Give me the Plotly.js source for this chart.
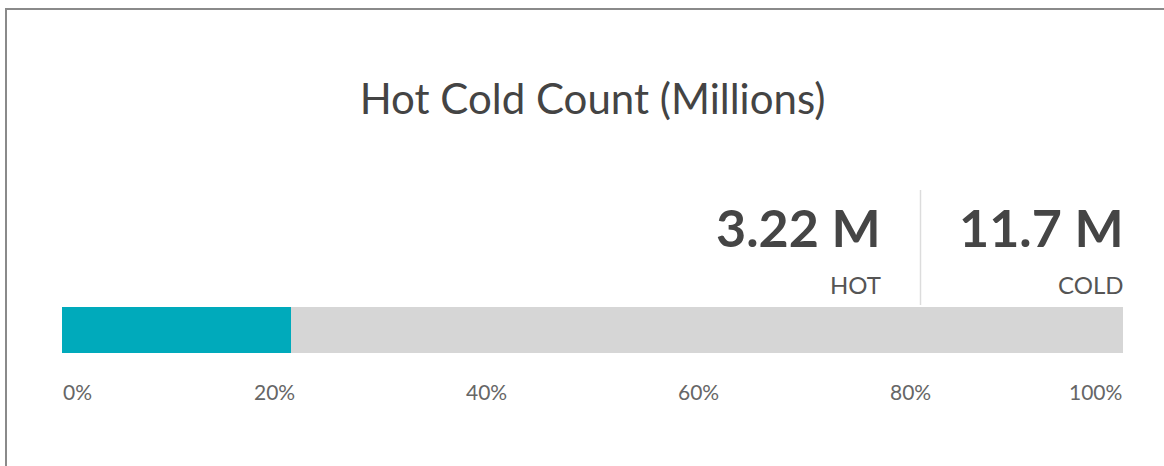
<!DOCTYPE html>
<html>
<head>
<meta charset="utf-8">
<script src="https://cdn.plot.ly/plotly-3.0.1.min.js"></script>
<style>
  html, body { margin: 0; padding: 0; background: #fff; overflow: hidden; }
  #wrap { position: relative; width: 1164px; height: 466px; }
  #chart { position: absolute; left: 0; top: 0; width: 1164px; height: 466px; }
  #frame { position: absolute; left: 5px; top: 8px; width: 1200px; height: 500px;
           border-left: 2px solid #8a8a8a; border-top: 2px solid #8a8a8a; pointer-events: none; }
</style>
</head>
<body>
<div id="wrap">
  <div id="chart"></div>
  <div id="frame"></div>
</div>
<script>
// ---- data ----
const titleText = "Hot Cold Count (Millions)";
const seriesNames = ["HOT", "COLD"];
const seriesValues = [3.22, 11.7];          // millions
const valueLabels = ["3.22 M", "11.7 M"];
const tickVals = [0, 0.2, 0.4, 0.6, 0.8, 1.0];
const tickText = ["0%", "20%", "40%", "60%", "80%", "100%"];
const barColors = ["#00aabb", "#d6d6d6"];

// ---- layout helpers ----
const W = 1164, H = 466;
const M = { l: 62, r: 41, t: 307, b: 113 };
const plotW = W - M.l - M.r, plotH = H - M.t - M.b;
const px2x = px => (px - M.l) / plotW;
const py2y = py => (H - M.b - py) / plotH;

const total = seriesValues.reduce((a, b) => a + b, 0);
const fractions = seriesValues.map(v => v / total);

const traces = seriesNames.map((name, i) => ({
  type: "bar",
  orientation: "h",
  name: name,
  y: ["count"],
  x: [fractions[i]],
  marker: { color: barColors[i] },
  hoverinfo: "skip"
}));

const annotations = [];
// axis tick labels (ends aligned inward)
tickVals.forEach((v, i) => {
  annotations.push({
    xref: "x", yref: "paper", x: v, y: py2y(391),
    text: tickText[i], showarrow: false,
    xanchor: i === 0 ? "left" : (i === tickVals.length - 1 ? "right" : "center"),
    yanchor: "middle",
    xshift: i === 0 ? -1 : (i === tickVals.length - 1 ? 1 : 0),
    font: { family: "Lato, sans-serif", size: 21, color: "#666" }
  });
});
// KPI numbers and labels
const rightEdges = [880, 1123];
seriesNames.forEach((name, i) => {
  annotations.push({
    xref: "paper", yref: "paper", x: px2x(rightEdges[i]), y: py2y(227),
    text: "<b>" + valueLabels[i] + "</b>", showarrow: false,
    xanchor: "right", yanchor: "middle", xshift: 3,
    font: { family: "Lato, sans-serif", size: 52, color: "#454545" }
  });
  annotations.push({
    xref: "paper", yref: "paper", x: px2x(rightEdges[i]), y: py2y(284),
    text: name, showarrow: false,
    xanchor: "right", yanchor: "middle", xshift: 3,
    font: { family: "Lato, sans-serif", size: 24, color: "#555" }
  });
});

const layout = {
  width: W, height: H,
  margin: M,
  paper_bgcolor: "rgba(0,0,0,0)",
  plot_bgcolor: "#fff",
  barmode: "stack",
  bargap: 0,
  showlegend: false,
  title: {
    text: titleText,
    x: 0.5, xref: "paper", xanchor: "center",
    y: 1 - 99 / H, yref: "container", yanchor: "middle",
    font: { family: "Lato, sans-serif", size: 42, color: "#444" }
  },
  xaxis: {
    range: [0, 1], fixedrange: true,
    showgrid: false, zeroline: false, showline: false,
    tickvals: tickVals, ticktext: tickText, showticklabels: false, ticks: ""
  },
  yaxis: {
    range: [-0.5, 0.5], fixedrange: true,
    showgrid: false, zeroline: false, showline: false, showticklabels: false, ticks: ""
  },
  shapes: [{
    type: "line", xref: "paper", yref: "paper",
    x0: px2x(920.5), x1: px2x(920.5), y0: py2y(190), y1: py2y(305),
    line: { color: "#dcdcdc", width: 1.5 }
  }],
  annotations: annotations
};

Plotly.newPlot("chart", traces, layout, { displayModeBar: false, staticPlot: true });
</script>
</body>
</html>
